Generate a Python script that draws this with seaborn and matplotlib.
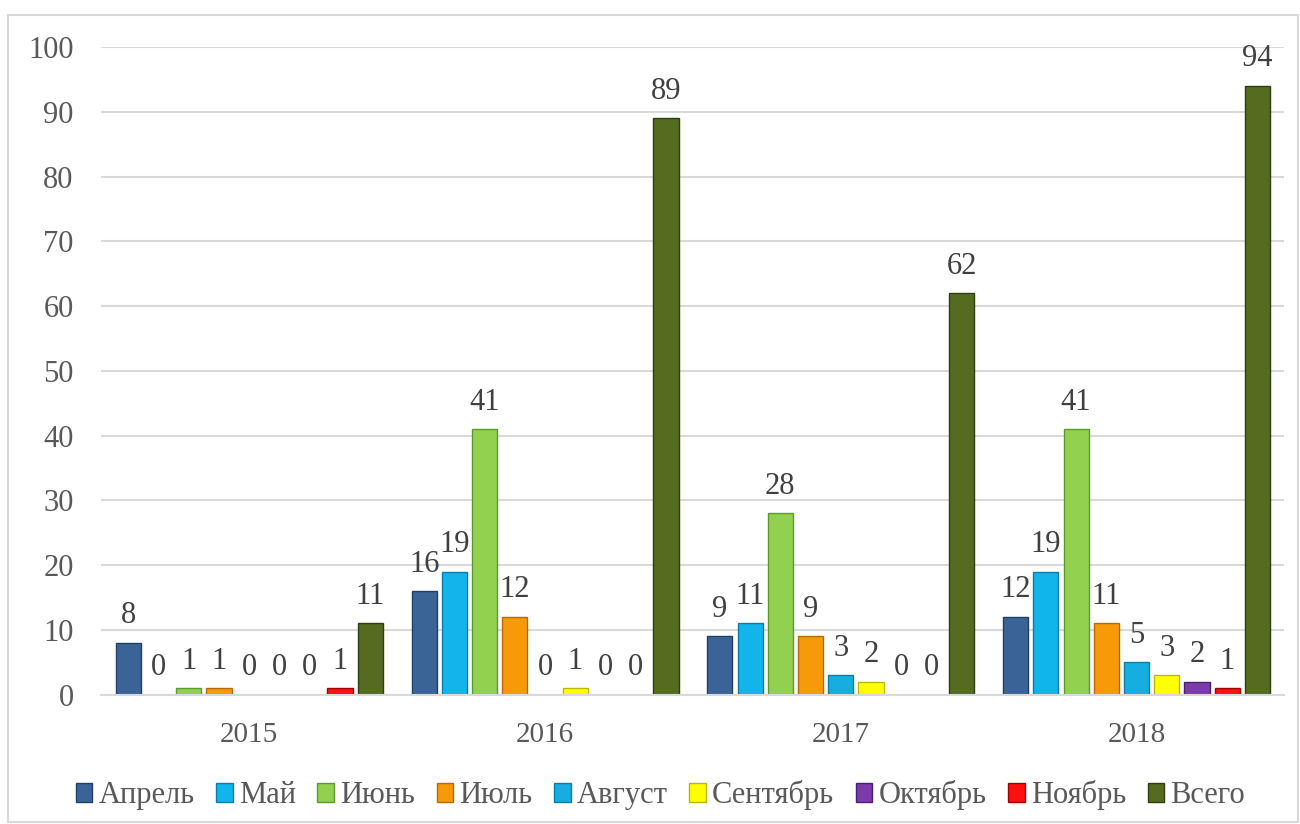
import pandas as pd
import seaborn as sns
import matplotlib.pyplot as plt
from matplotlib.patches import Rectangle

years = ['2015', '2016', '2017', '2018']
months = ['Апрель', 'Май', 'Июнь', 'Июль', 'Август', 'Сентябрь', 'Октябрь', 'Ноябрь', 'Всего']

aprel = [8, 16, 9, 12]
mai = [0, 19, 11, 19]
iyun = [1, 41, 28, 41]
iyul = [1, 12, 9, 11]
avgust = [0, 0, 3, 5]
sentyabr = [0, 1, 2, 3]
oktyabr = [0, 0, 0, 2]
noyabr = [1, 0, 0, 1]
vsego = [11, 89, 62, 94]

colors = ['#3A6496', '#12B4EC', '#92D050', '#F79A0A', '#16AEE0',
          '#FFFF00', '#7A3CA8', '#FF1010', '#556B20']
edges = ['#1F3F66', '#0A7EA8', '#5E9A2A', '#B36B00', '#0A7EA8',
         '#B8B800', '#4B1F70', '#A00000', '#2F3E10']

series = [aprel, mai, iyun, iyul, avgust, sentyabr, oktyabr, noyabr, vsego]
rows = []
for m, vals in zip(months, series):
    for y, v in zip(years, vals):
        rows.append({'Год': y, 'Месяц': m, 'Значение': v})
df = pd.DataFrame(rows)

sns.set_style('white')
plt.rcParams['font.family'] = ['Liberation Serif', 'DejaVu Serif']

fig = plt.figure(figsize=(13, 8.24), dpi=100)
ax = fig.add_axes([0.078, 0.157, 0.910, 0.786])

sns.barplot(data=df, x='Год', y='Значение', hue='Месяц', order=years, hue_order=months,
            palette=colors, saturation=1, width=0.92, gap=0.17, ax=ax, legend=False)

for cont, ec in zip(ax.containers, edges):
    for bar in cont:
        bar.set_edgecolor(ec)
        bar.set_linewidth(1.0)
    ax.bar_label(cont, fmt='%d', padding=9, fontsize=22, color='#404040')

ax.set_ylim(0, 100)
ax.set_xlim(-0.5, 3.5)
ax.set_yticks(range(0, 101, 10))
ax.yaxis.grid(True, color='#D9D9D9', linewidth=1.5)
ax.set_axisbelow(True)
for s in ax.spines.values():
    s.set_visible(False)
ax.spines['bottom'].set_visible(True)
ax.spines['bottom'].set_color('#D9D9D9')
ax.spines['bottom'].set_linewidth(1.5)
ax.tick_params(axis='y', length=0, pad=20, labelsize=22, labelcolor='#595959')
ax.tick_params(axis='x', length=0, pad=20, labelsize=21, labelcolor='#595959')
ax.set_xlabel('')
ax.set_ylabel('')

handles = [Rectangle((0, 0), 1, 1, facecolor=c, edgecolor=e) for c, e in zip(colors, edges)]
fig.legend(handles, months, loc='center', bbox_to_anchor=(0.508, 0.035), ncol=9,
           frameon=False, fontsize=22, handlelength=0.55, handleheight=0.55,
           handletextpad=0.2, columnspacing=0.7, labelcolor='#595959')

fig.patches.append(Rectangle((8 / 1300, 2 / 824), 1290 / 1300, 807 / 824,
                             transform=fig.transFigure, fill=False,
                             edgecolor='#D9D9D9', linewidth=1.5))

fig.savefig('out.png', dpi=100)
